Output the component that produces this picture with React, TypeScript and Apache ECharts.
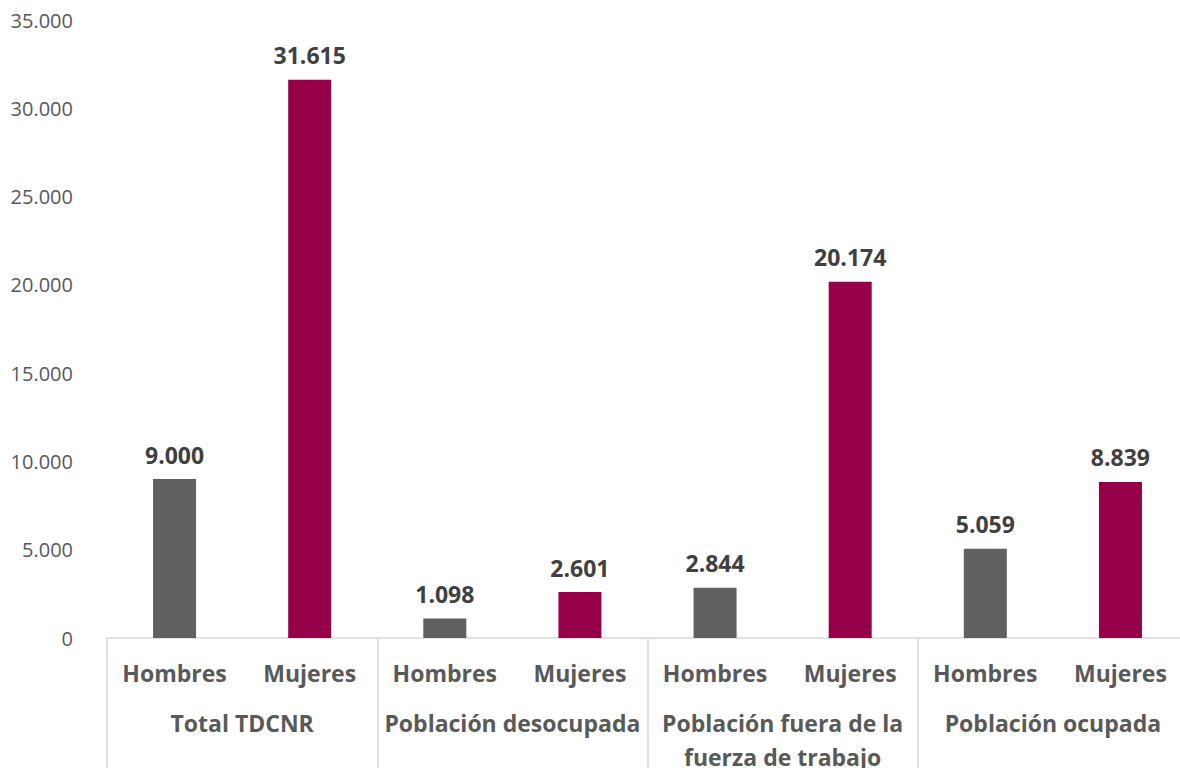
import React, { useEffect, useRef } from "react";
import * as echarts from "echarts";

const categories = ["Hombres", "Mujeres", "Hombres", "Mujeres", "Hombres", "Mujeres", "Hombres", "Mujeres"];
const groups = ["Total TDCNR", "Población desocupada", "Población fuera de la\nfuerza de trabajo", "Población ocupada"];
const values = [9000, 31615, 1098, 2601, 2844, 20174, 5059, 8839];
const yTicks = [0, 5000, 10000, 15000, 20000, 25000, 30000, 35000];
const colors = ["#606060", "#960048"];

const fmt = (v: number) => String(Math.round(v)).replace(/\B(?=(\d{3})+(?!\d))/g, ".");

export default function App() {
  const ref = useRef<HTMLDivElement>(null);
  useEffect(() => {
    const chart = echarts.init(ref.current!, null, { renderer: "svg" });
    const font = "'Open Sans', 'Segoe UI', sans-serif";
    chart.setOption({
      animation: false,
      textStyle: { fontFamily: font },
      grid: { left: 107, right: -8, top: 20, bottom: 130, containLabel: false, outerBoundsMode: "none" },
      xAxis: [
        {
          type: "category",
          data: categories,
          position: "bottom",
          axisLine: { show: true, lineStyle: { color: "#d9d9d9", width: 1.5 } },
          axisTick: { show: false },
          axisLabel: { color: "#595959", fontSize: 23, fontWeight: "bold", margin: 18, lineHeight: 34, fontFamily: font, interval: 0 },
        },
        {
          type: "category",
          data: groups,
          position: "bottom",
          axisLine: { show: false },
          axisTick: { show: true, length: 140, lineStyle: { color: "#d9d9d9", width: 1.5 } },
          axisLabel: { color: "#595959", fontSize: 23, fontWeight: "bold", margin: 68, lineHeight: 34, fontFamily: font, interval: 0 },
        },
      ],
      yAxis: {
        type: "value",
        min: 0,
        max: 35000,
        interval: 5000,
        axisLine: { show: false },
        axisTick: { show: false },
        splitLine: { show: false },
        axisLabel: {
          color: "#595959",
          fontSize: 20,
          margin: 34,
          fontFamily: font,
          formatter: (v: number) => (yTicks.includes(v) ? fmt(v) : ""),
        },
      },
      series: [
        {
          type: "bar",
          xAxisIndex: 0,
          barWidth: 43,
          data: values.map((v, i) => ({ value: v, itemStyle: { color: colors[i % 2] } })),
          label: {
            show: true,
            position: "top",
            distance: 13,
            color: "#404040",
            fontSize: 23,
            fontWeight: "bold",
            fontFamily: font,
            formatter: (p: any) => fmt(p.value),
          },
        },
      ],
    });
    return () => chart.dispose();
  }, []);
  return <div ref={ref} style={{ position: "fixed", left: 0, top: 0, width: 1180, height: 768, background: "#fff" }} />;
}
